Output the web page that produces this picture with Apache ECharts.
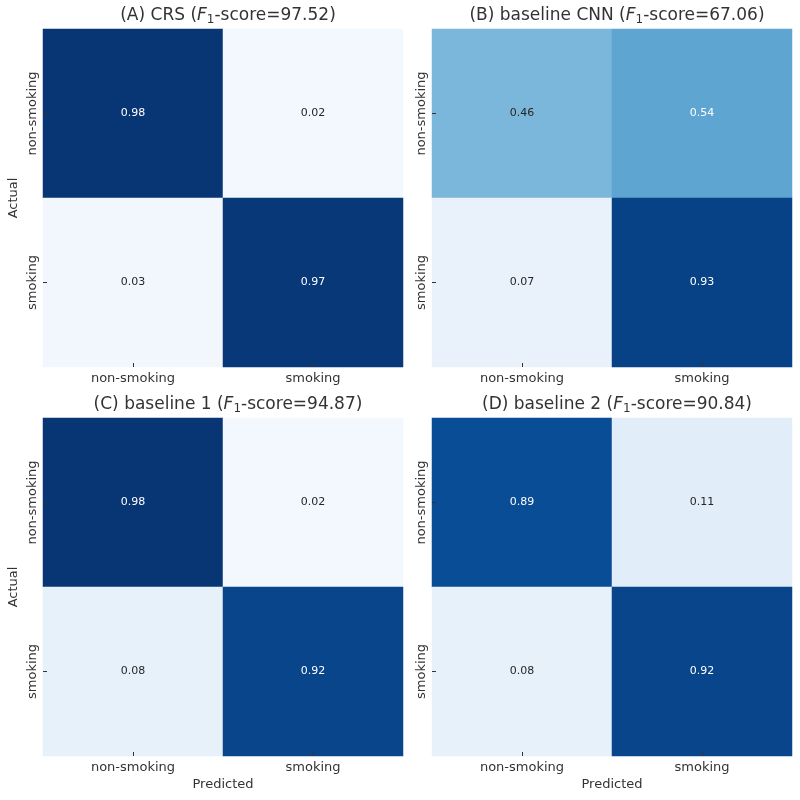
<!DOCTYPE html>
<html>
<head>
<meta charset="utf-8">
<script src="https://cdn.jsdelivr.net/npm/echarts@6/dist/echarts.min.js"></script>
<style>
  html, body { margin: 0; padding: 0; background: #fff; }
  #main { width: 800px; height: 800px; }
</style>
</head>
<body>
<div id="main"></div>
<script>
// classes, shared by both axes
var categories = ['non-smoking', 'smoking'];

// panel titles and F1 scores
var panelNames = ['(A) CRS', '(B) baseline CNN', '(C) baseline 1', '(D) baseline 2'];
var f1Scores = ['97.52', '67.06', '94.87', '90.84'];

// normalized confusion matrices, rows = actual, cols = predicted
var cmA = [[0.98, 0.02], [0.03, 0.97]];
var cmB = [[0.46, 0.54], [0.07, 0.93]];
var cmC = [[0.98, 0.02], [0.08, 0.92]];
var cmD = [[0.89, 0.11], [0.08, 0.92]];
var matrices = [cmA, cmB, cmC, cmD];

// seaborn "Blues"
var blues = ['#f7fbff', '#deebf7', '#c6dbef', '#9ecae1', '#6baed6', '#4292c6', '#2171b5', '#08519c', '#08306b'];

var fontFam = 'DejaVu Sans';
var txtColor = '#333';
var lefts = [43, 432, 43, 432];
var tops = [29, 29, 418, 418];
var gw = 360, gh = 338;

var grids = [], xAxes = [], yAxes = [], series = [], titles = [];

for (var p = 0; p < 4; p++) {
    grids.push({ left: lefts[p], top: tops[p], width: gw, height: gh });

    titles.push({
        text: '{n|' + panelNames[p] + ' (}{i|F}{s|1}{n|-score=' + f1Scores[p] + ')}',
        left: lefts[p] + gw / 2,
        top: tops[p] - 28,
        textAlign: 'center',
        textStyle: {
            rich: {
                n: { fontSize: 17, color: txtColor, fontFamily: fontFam, fontWeight: 'normal' },
                i: { fontSize: 17, color: txtColor, fontFamily: fontFam, fontStyle: 'italic', fontWeight: 'normal' },
                s: { fontSize: 12, color: txtColor, fontFamily: fontFam, fontWeight: 'normal', padding: [8, 0, 0, 0] }
            }
        }
    });

    xAxes.push({
        type: 'category',
        gridIndex: p,
        data: categories,
        z: 5,
        name: p >= 2 ? 'Predicted' : '',
        nameLocation: 'middle',
        nameGap: 22,
        nameTextStyle: { fontSize: 13, color: txtColor, fontFamily: fontFam },
        axisLine: { show: false },
        axisTick: { show: true, inside: true, length: 4, alignWithLabel: true, lineStyle: { color: '#333' } },
        axisLabel: { fontSize: 13, color: txtColor, margin: 5, fontFamily: fontFam },
        splitLine: { show: false }
    });

    yAxes.push({
        type: 'category',
        gridIndex: p,
        data: categories,
        inverse: true,
        z: 5,
        name: (p % 2 === 0) ? 'Actual' : '',
        nameLocation: 'middle',
        nameGap: 23,
        nameTextStyle: { fontSize: 13, color: txtColor, fontFamily: fontFam },
        axisLine: { show: false },
        axisTick: { show: true, inside: true, length: 4, alignWithLabel: true, lineStyle: { color: '#333' } },
        axisLabel: { fontSize: 13, color: txtColor, margin: 4, rotate: 90, fontFamily: fontFam },
        splitLine: { show: false }
    });

    var cells = [];
    var m = matrices[p];
    for (var r = 0; r < 2; r++) {
        for (var c = 0; c < 2; c++) {
            cells.push({
                value: [c, r, m[r][c]],
                label: { color: m[r][c] >= 0.5 ? '#ffffff' : '#262626' }
            });
        }
    }

    series.push({
        type: 'heatmap',
        xAxisIndex: p,
        yAxisIndex: p,
        data: cells,
        label: {
            show: true,
            fontSize: 11,
            fontFamily: fontFam,
            formatter: function (prm) { return prm.value[2].toFixed(2); }
        },
        emphasis: { disabled: true }
    });
}

var option = {
    backgroundColor: '#fff',
    animation: false,
    title: titles,
    grid: grids,
    xAxis: xAxes,
    yAxis: yAxes,
    visualMap: {
        show: false,
        min: 0,
        max: 1,
        dimension: 2,
        seriesIndex: [0, 1, 2, 3],
        inRange: { color: blues }
    },
    series: series
};

var chart = echarts.init(document.getElementById('main'));
chart.setOption(option);
</script>
</body>
</html>
